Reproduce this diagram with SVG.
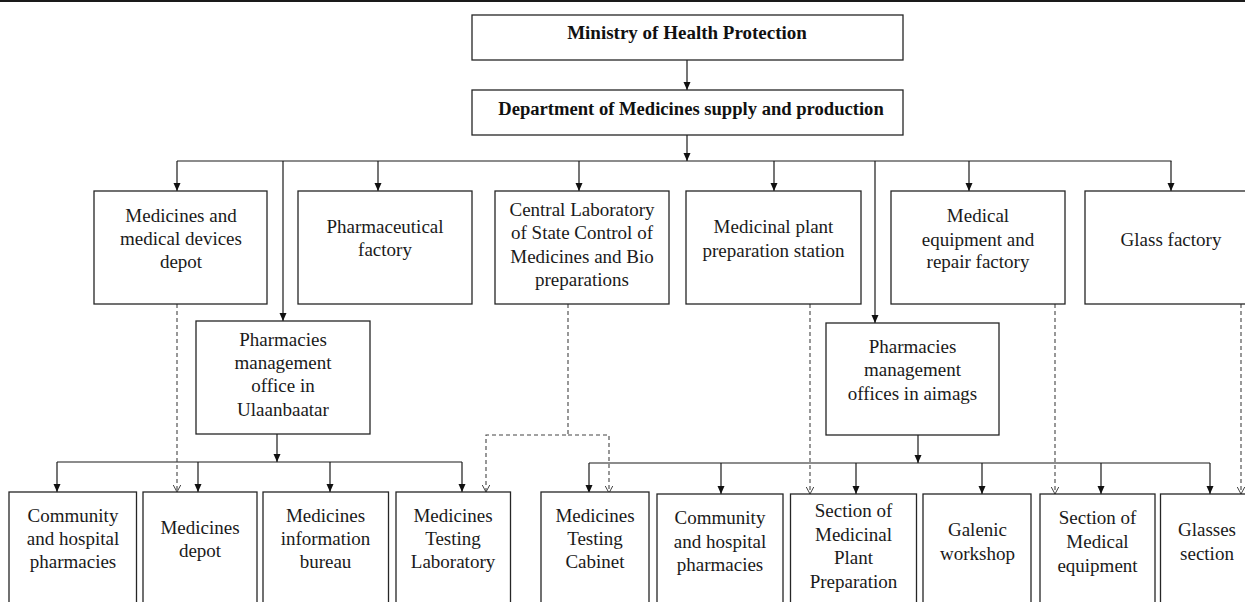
<svg xmlns="http://www.w3.org/2000/svg" width="1245" height="602" viewBox="0 0 1245 602">
<style>
.box{fill:#fff;stroke:#262626;stroke-width:1.3}
.t{font-family:"Liberation Serif","Times New Roman",serif;font-size:19px;fill:#1a1a1a;text-anchor:middle}
.b{font-family:"Liberation Serif","Times New Roman",serif;font-weight:bold;fill:#111;text-anchor:middle}
.c{fill:none;stroke:#1a1a1a;stroke-width:1.2}
.d{fill:none;stroke:#444;stroke-width:1.1;stroke-dasharray:4 3}
</style>
<defs>
<marker id="ah" viewBox="0 0 8 8" refX="8" refY="4" markerWidth="8" markerHeight="8" markerUnits="userSpaceOnUse" orient="auto">
<path d="M0,0.5 L8,4 L0,7.5 z" fill="#111"/>
</marker>
<marker id="oh" viewBox="0 0 8 9" refX="7.5" refY="4.5" markerWidth="8" markerHeight="9" markerUnits="userSpaceOnUse" orient="auto">
<path d="M0,0.5 L7.5,4.5 L0,8.5" fill="none" stroke="#444" stroke-width="1"/>
</marker>
</defs>
<rect width="1245" height="602" fill="#fff"/>
<line x1="0" y1="1" x2="1245" y2="1" stroke="#1a1a1a" stroke-width="2"/>

<g id="connectors">
<line class="c" x1="687" y1="60" x2="687" y2="90" marker-end="url(#ah)"/>
<line class="c" x1="687" y1="135" x2="687" y2="161" marker-end="url(#ah)"/>
<line class="c" x1="177" y1="161" x2="1171.5" y2="161"/>
<line class="c" x1="177" y1="161" x2="177" y2="191" marker-end="url(#ah)"/>
<line class="c" x1="378" y1="161" x2="378" y2="191" marker-end="url(#ah)"/>
<line class="c" x1="579" y1="161" x2="579" y2="191" marker-end="url(#ah)"/>
<line class="c" x1="774" y1="161" x2="774" y2="191" marker-end="url(#ah)"/>
<line class="c" x1="969" y1="161" x2="969" y2="191" marker-end="url(#ah)"/>
<line class="c" x1="1171" y1="161" x2="1171" y2="191" marker-end="url(#ah)"/>
<line class="c" x1="283" y1="161" x2="283" y2="321" marker-end="url(#ah)"/>
<line class="c" x1="875" y1="161" x2="875" y2="323" marker-end="url(#ah)"/>

<line class="c" x1="277" y1="434" x2="277" y2="462" marker-end="url(#ah)"/>
<line class="c" x1="57" y1="462" x2="462" y2="462"/>
<line class="c" x1="57" y1="462" x2="57" y2="492" marker-end="url(#ah)"/>
<line class="c" x1="198" y1="462" x2="198" y2="492" marker-end="url(#ah)"/>
<line class="c" x1="330" y1="462" x2="330" y2="492" marker-end="url(#ah)"/>
<line class="c" x1="462" y1="462" x2="462" y2="492" marker-end="url(#ah)"/>

<line class="c" x1="918" y1="435" x2="918" y2="463" marker-end="url(#ah)"/>
<line class="c" x1="589" y1="463" x2="1210" y2="463"/>
<line class="c" x1="589" y1="463" x2="589" y2="493" marker-end="url(#ah)"/>
<line class="c" x1="721" y1="463" x2="721" y2="494" marker-end="url(#ah)"/>
<line class="c" x1="856" y1="463" x2="856" y2="494" marker-end="url(#ah)"/>
<line class="c" x1="982" y1="463" x2="982" y2="494" marker-end="url(#ah)"/>
<line class="c" x1="1101" y1="463" x2="1101" y2="494" marker-end="url(#ah)"/>
<line class="c" x1="1210" y1="463" x2="1210" y2="494" marker-end="url(#ah)"/>

<line class="d" x1="177" y1="304" x2="177" y2="492" marker-end="url(#oh)"/>
<path class="d" d="M568,304 V435 H486 V492" marker-end="url(#oh)"/>
<path class="d" d="M568,435 H609 V493" marker-end="url(#oh)"/>
<line class="d" x1="810" y1="304" x2="810" y2="494" marker-end="url(#oh)"/>
<line class="d" x1="1055" y1="304" x2="1055" y2="494" marker-end="url(#oh)"/>
<line class="d" x1="1241" y1="304" x2="1241" y2="494" marker-end="url(#oh)"/>
</g>

<g id="ministry">
<rect class="box" x="472" y="15" width="431" height="45"/>
<text class="b" x="687" y="39" font-size="19">Ministry of Health Protection</text>
</g>
<g id="department">
<rect class="box" x="472" y="90" width="431" height="45"/>
<text class="b" x="691" y="115" font-size="18.6">Department of Medicines supply and production</text>
</g>

<g id="depot-devices">
<rect class="box" x="94" y="191" width="173" height="113"/>
<text class="t" x="181" y="222">Medicines and</text>
<text class="t" x="181" y="245">medical devices</text>
<text class="t" x="181" y="268">depot</text>
</g>
<g id="pharma-factory">
<rect class="box" x="298" y="191" width="174" height="113"/>
<text class="t" x="385" y="233">Pharmaceutical</text>
<text class="t" x="385" y="256">factory</text>
</g>
<g id="central-lab">
<rect class="box" x="495" y="191" width="174" height="113"/>
<text class="t" x="582" y="216">Central Laboratory</text>
<text class="t" x="582" y="239">of State Control of</text>
<text class="t" x="582" y="262.5">Medicines and Bio</text>
<text class="t" x="582" y="286">preparations</text>
</g>
<g id="plant-station">
<rect class="box" x="686" y="191" width="175" height="113"/>
<text class="t" x="773.5" y="233">Medicinal plant</text>
<text class="t" x="773.5" y="256.5">preparation station</text>
</g>
<g id="equipment-factory">
<rect class="box" x="891" y="191" width="174" height="113"/>
<text class="t" x="978" y="222">Medical</text>
<text class="t" x="978" y="245.5">equipment and</text>
<text class="t" x="978" y="268">repair factory</text>
</g>
<g id="glass-factory">
<rect class="box" x="1085" y="191" width="174" height="113"/>
<text class="t" x="1171" y="245.5">Glass factory</text>
</g>

<g id="office-ub">
<rect class="box" x="196" y="321" width="174" height="113"/>
<text class="t" x="283" y="346">Pharmacies</text>
<text class="t" x="283" y="369">management</text>
<text class="t" x="283" y="392">office in</text>
<text class="t" x="283" y="415.5">Ulaanbaatar</text>
</g>
<g id="offices-aimags">
<rect class="box" x="826" y="323" width="173" height="112"/>
<text class="t" x="912.5" y="353">Pharmacies</text>
<text class="t" x="912.5" y="376">management</text>
<text class="t" x="912.5" y="399.5">offices in aimags</text>
</g>

<g id="community-1">
<rect class="box" x="9" y="492" width="127.5" height="130"/>
<text class="t" x="73" y="522">Community</text>
<text class="t" x="73" y="545">and hospital</text>
<text class="t" x="73" y="568">pharmacies</text>
</g>
<g id="medicines-depot">
<rect class="box" x="143" y="492" width="114" height="130"/>
<text class="t" x="200" y="534">Medicines</text>
<text class="t" x="200" y="557">depot</text>
</g>
<g id="info-bureau">
<rect class="box" x="263" y="492" width="125.5" height="130"/>
<text class="t" x="325.5" y="522">Medicines</text>
<text class="t" x="325.5" y="545">information</text>
<text class="t" x="325.5" y="568">bureau</text>
</g>
<g id="testing-lab">
<rect class="box" x="396" y="492" width="114.5" height="130"/>
<text class="t" x="453" y="522">Medicines</text>
<text class="t" x="453" y="545">Testing</text>
<text class="t" x="453" y="568">Laboratory</text>
</g>
<g id="testing-cabinet">
<rect class="box" x="541" y="492" width="108" height="130"/>
<text class="t" x="595" y="522">Medicines</text>
<text class="t" x="595" y="545">Testing</text>
<text class="t" x="595" y="568">Cabinet</text>
</g>
<g id="community-2">
<rect class="box" x="657" y="494" width="126" height="130"/>
<text class="t" x="720" y="524">Community</text>
<text class="t" x="720" y="547.5">and hospital</text>
<text class="t" x="720" y="571">pharmacies</text>
</g>
<g id="section-plant">
<rect class="box" x="790.5" y="494" width="126" height="130"/>
<text class="t" x="853.5" y="517">Section of</text>
<text class="t" x="853.5" y="540.5">Medicinal</text>
<text class="t" x="853.5" y="564">Plant</text>
<text class="t" x="853.5" y="587.5">Preparation</text>
</g>
<g id="galenic">
<rect class="box" x="923" y="494" width="108" height="130"/>
<text class="t" x="977.5" y="536">Galenic</text>
<text class="t" x="977.5" y="559.5">workshop</text>
</g>
<g id="section-equipment">
<rect class="box" x="1040" y="494" width="115" height="130"/>
<text class="t" x="1097.5" y="524">Section of</text>
<text class="t" x="1097.5" y="548">Medical</text>
<text class="t" x="1097.5" y="571.5">equipment</text>
</g>
<g id="glasses-section">
<rect class="box" x="1160.5" y="494" width="94" height="130"/>
<text class="t" x="1207" y="536">Glasses</text>
<text class="t" x="1207" y="559.5">section</text>
</g>
</svg>
